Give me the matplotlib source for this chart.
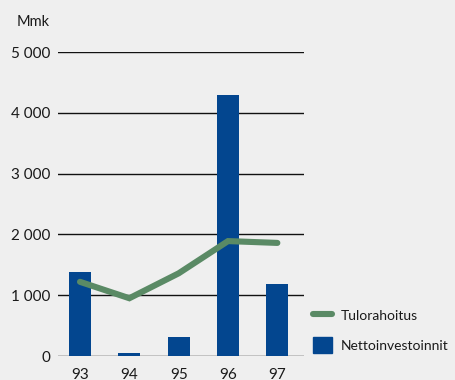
import numpy as np
import matplotlib.pyplot as plt
from matplotlib.lines import Line2D
from matplotlib.patches import Patch

years = ["93", "94", "95", "96", "97"]
nettoinvestoinnit = [1380, 55, 310, 4290, 1180]
tulorahoitus = [1220, 950, 1360, 1890, 1860]
y_ticks = [0, 1000, 2000, 3000, 4000, 5000]
y_tick_labels = ["0", "1 000", "2 000", "3 000", "4 000", "5 000"]

bg = "#efefef"
blue = "#03468f"
green = "#5a8a65"
text_col = "#1a1a1a"

plt.rcParams['font.family'] = ['Lato', 'DejaVu Sans']

W, H = 455, 380
fig = plt.figure(figsize=(W / 100, H / 100), dpi=100, facecolor=bg)

# axes box in pixels: left 58, right 304, bottom (0-line) 356, top (5000-line) 52
ax = fig.add_axes([58 / W, (H - 356) / H, (304 - 58) / W, (356 - 52) / H])
ax.set_facecolor(bg)

x = np.arange(len(years))
ax.bar(x, nettoinvestoinnit, width=0.45, color=blue, zorder=2)
ax.plot(x, tulorahoitus, color=green, lw=4.4, solid_capstyle='round',
        solid_joinstyle='miter', zorder=3)

ax.set_xlim(-0.446, 4.54)
ax.set_ylim(0, 5000)
ax.set_yticks(y_ticks)
ax.set_yticklabels(y_tick_labels)
ax.set_xticks(x)
ax.set_xticklabels(years)
ax.tick_params(axis='both', length=0, colors=text_col, labelsize=11)
ax.tick_params(axis='y', pad=5.5)
ax.tick_params(axis='x', pad=8.5)
for s in ax.spines.values():
    s.set_visible(False)
ax.yaxis.grid(True, color="#111111", lw=1.0, zorder=1)
ax.set_axisbelow(True)

fig.text(17 / W, (H - 22) / H, "Mmk", fontsize=10.5, color=text_col, va='center', ha='left')

handles = [Line2D([], [], color=green, lw=4.4, solid_capstyle='round'),
           Patch(color=blue)]
fig.legend(handles, ["Tulorahoitus", "Nettoinvestoinnit"], loc='upper left',
           bbox_to_anchor=(313 / W, (H - 308) / H), frameon=False,
           fontsize=10, handlelength=1.4, handleheight=1.35, labelspacing=1.0,
           handletextpad=0.6, borderpad=0, borderaxespad=0, labelcolor=text_col)

fig.savefig("out.png", dpi=100, facecolor=bg)
